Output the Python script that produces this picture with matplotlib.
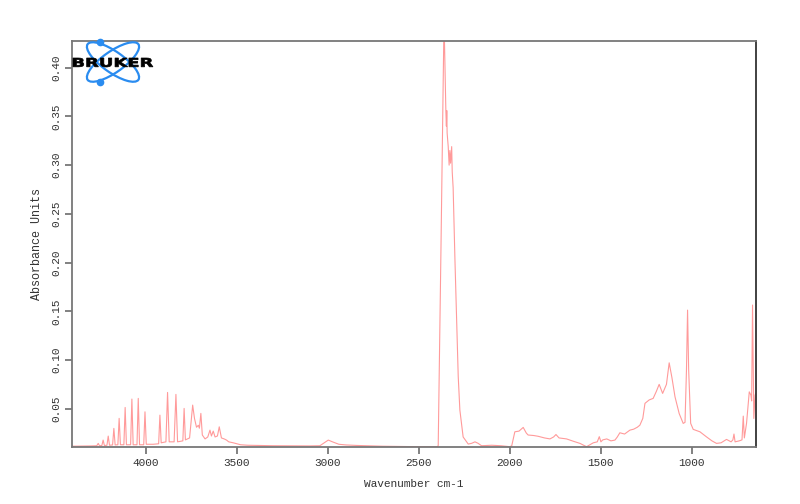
import matplotlib
matplotlib.use("Agg")
import matplotlib.pyplot as plt
from matplotlib.patches import Ellipse, PathPatch
from matplotlib.textpath import TextPath
from matplotlib.font_manager import FontProperties
from matplotlib.transforms import Affine2D

# water vapour region (cm-1, absorbance)
water_wn = [4406, 4300, 4270, 4262, 4255, 4242, 4235, 4228, 4214, 4207, 4200,
            4183, 4176, 4169, 4154, 4147, 4140, 4121, 4114, 4107, 4084, 4077,
            4070, 4049, 4042, 4035, 4012, 4005, 3998, 3960, 3930, 3923, 3916,
            3890, 3881, 3872, 3845, 3835, 3826, 3797, 3790, 3783, 3760, 3743,
            3733, 3722, 3712, 3706, 3698, 3690, 3675, 3660, 3648, 3640, 3630,
            3620, 3607, 3597, 3585, 3570, 3557, 3545, 3520, 3480, 3440]
water_abs = [0.0115, 0.0118, 0.012, 0.0144, 0.012, 0.0122, 0.0178, 0.0122, 0.0125, 0.0219, 0.0125,
             0.0128, 0.0298, 0.0128, 0.013, 0.0401, 0.013, 0.013, 0.0513, 0.013, 0.013, 0.0599,
             0.013, 0.013, 0.0606, 0.013, 0.013, 0.0468, 0.0135, 0.0135, 0.014, 0.0434, 0.015,
             0.016, 0.0667, 0.016, 0.016, 0.0647, 0.016, 0.017, 0.0503, 0.018, 0.02, 0.0537,
             0.04, 0.031, 0.033, 0.03, 0.0452, 0.023, 0.019, 0.021, 0.028, 0.022, 0.027,
             0.021, 0.022, 0.0314, 0.02, 0.019, 0.0178, 0.016, 0.015, 0.013, 0.0125]

# C-H bump and the big CO2 band
co2_wn = [3300, 3100, 3044, 3020, 2998, 2975, 2940, 2900, 2842, 2700, 2500, 2400,
          2394, 2379, 2362, 2355, 2352, 2349, 2347, 2345, 2339, 2334, 2330, 2326,
          2320, 2317, 2312, 2302, 2293, 2284, 2275, 2257, 2229, 2210, 2192, 2175, 2156]
co2_abs = [0.012, 0.0118, 0.012, 0.015, 0.0178, 0.016, 0.0135, 0.0128, 0.0123, 0.0115, 0.011, 0.011,
           0.012, 0.212, 0.45, 0.38, 0.356, 0.34, 0.356, 0.333, 0.319, 0.30, 0.315, 0.302,
           0.319, 0.293, 0.277, 0.2025, 0.144, 0.083, 0.0486, 0.021, 0.0137, 0.0145, 0.016, 0.0145, 0.012]

# fingerprint region
finger_wn = [2100, 2050, 2000, 1990, 1973, 1950, 1927, 1910, 1900, 1870, 1845, 1810,
             1780, 1760, 1747, 1730, 1710, 1689, 1650, 1615, 1579, 1560, 1542, 1520,
             1509, 1500, 1490, 1468, 1445, 1423, 1410, 1396, 1370, 1341, 1320, 1300,
             1286, 1270, 1258, 1235, 1213, 1195, 1180, 1161, 1140, 1125, 1110, 1093,
             1070, 1048, 1038, 1030, 1024, 1018, 1007, 993, 956, 920, 890, 865, 840,
             810, 785, 775, 769, 763, 740, 725, 718, 712, 700, 685, 676, 672, 667,
             660, 653, 648]
finger_abs = [0.0125, 0.012, 0.011, 0.012, 0.0263, 0.027, 0.0308, 0.025, 0.023, 0.0225, 0.0217, 0.02,
              0.019, 0.021, 0.0235, 0.02, 0.0195, 0.019, 0.0165, 0.0144, 0.011, 0.013, 0.015, 0.016,
              0.0213, 0.016, 0.018, 0.019, 0.017, 0.0178, 0.021, 0.0253, 0.024, 0.028, 0.029, 0.031,
              0.0331, 0.04, 0.0555, 0.059, 0.0606, 0.068, 0.075, 0.0657, 0.075, 0.0971, 0.082, 0.0622,
              0.045, 0.0349, 0.036, 0.09, 0.1512, 0.09, 0.035, 0.0288, 0.0263, 0.0211, 0.017, 0.0144, 0.015,
              0.0185, 0.016, 0.018, 0.024, 0.016, 0.017, 0.018, 0.0424, 0.02, 0.035, 0.0673, 0.064, 0.058, 0.1564,
              0.04, 0.064, 0.066]

x_ticks = [1000, 1500, 2000, 2500, 3000, 3500, 4000]
y_ticks = [0.05, 0.10, 0.15, 0.20, 0.25, 0.30, 0.35, 0.40]

wn = water_wn + co2_wn + finger_wn
ab = water_abs + co2_abs + finger_abs

plt.rcParams["font.family"] = ["Liberation Mono", "DejaVu Sans"]
grey = "#777777"

fig = plt.figure(figsize=(8, 5.04), dpi=100)
ax = fig.add_axes([72 / 800, 57 / 504, 684 / 800, 406 / 504])
ax.plot(wn, ab, color="#ff9a9a", lw=0.8)
ax.set_xlim(4406, 648)
ax.set_ylim(0.0107, 0.4274)
ax.set_xticks(x_ticks)
ax.set_xticklabels([str(t) for t in x_ticks])
ax.set_yticks(y_ticks)
ax.set_yticklabels(["%.2f" % t for t in y_ticks], rotation=90, va="center")
ax.tick_params(axis="both", direction="out", length=5, width=1.3, color=grey,
               labelsize=8, labelcolor="#333333", pad=3)
for s in ax.spines.values():
    s.set_color(grey)
    s.set_linewidth(1.3)
ax.spines["right"].set_color("#333333")
ax.set_xlabel("Wavenumber cm-1", fontsize=8, labelpad=8, color="#333333")
ax.set_ylabel("Absorbance Units", fontsize=8.5, labelpad=6, color="#333333")

# Bruker logo
lg = fig.add_axes([70 / 800, (504 - 86) / 504, 90 / 800, 48 / 504])
lg.set_xlim(0, 90)
lg.set_ylim(0, 48)
lg.axis("off")
blue = "#2a8cf0"
for ang in (35, -35):
    lg.add_patch(Ellipse((43, 24), 62, 21, angle=ang, fill=False,
                         edgecolor=blue, lw=1.6, clip_on=False))
lg.plot([30, 30], [44, 4], "o", color=blue, ms=4.5, ls="none", clip_on=False)

tp = TextPath((0, 0), "BRUKER", size=10, prop=FontProperties(family="DejaVu Sans", weight="bold"))
ext = tp.get_extents()
tr = Affine2D().translate(-ext.x0, -ext.y0).scale(80 / ext.width, 9 / ext.height).translate(3, 19)
lg.add_patch(PathPatch(tr.transform_path(tp), facecolor="black", edgecolor="black", lw=0.5))

fig.savefig("out.png", dpi=100)
